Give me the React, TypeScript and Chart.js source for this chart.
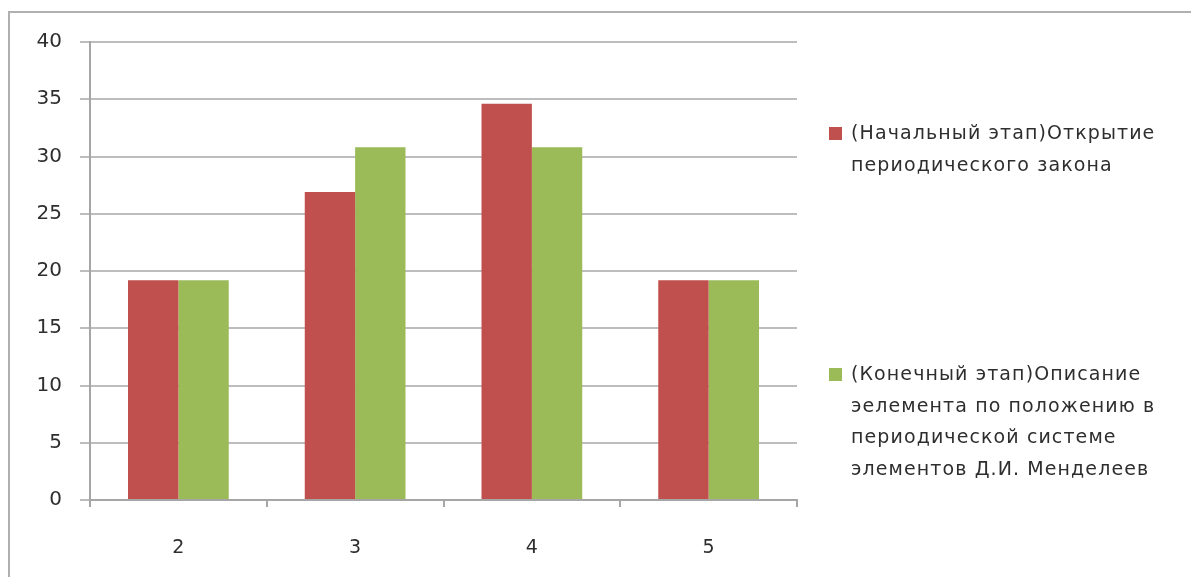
import React, { useEffect, useRef } from "react";
import { Chart, registerables } from "chart.js";

Chart.register(...registerables);

const categories = ["2", "3", "4", "5"];
const initialStage = [19.2, 26.9, 34.6, 19.2];
const finalStage = [19.2, 30.8, 30.8, 19.2];
const initialLabel = ["(Начальный этап)Открытие", "периодического закона"];
const finalLabel = [
  "(Конечный этап)Описание",
  "эелемента по положению в",
  "периодической системе",
  "элементов Д.И. Менделеев",
];
const seriesColors = ["#C0504D", "#9BBB59"];
const yMin = 0;
const yMax = 40;
const yStep = 5;

const FONT = "'DejaVu Sans', 'Liberation Sans', sans-serif";

export default function App() {
  const canvasRef = useRef<HTMLCanvasElement | null>(null);

  useEffect(() => {
    const canvas = canvasRef.current;
    if (!canvas) return;
    const chart = new Chart(canvas, {
      type: "bar",
      data: {
        labels: categories,
        datasets: [
          {
            label: initialLabel.join(" "),
            data: initialStage,
            backgroundColor: seriesColors[0],
            borderWidth: 0,
            categoryPercentage: 0.57,
            barPercentage: 1,
          },
          {
            label: finalLabel.join(" "),
            data: finalStage,
            backgroundColor: seriesColors[1],
            borderWidth: 0,
            categoryPercentage: 0.57,
            barPercentage: 1,
          },
        ],
      },
      options: {
        animation: false,
        responsive: false,
        maintainAspectRatio: false,
        layout: { padding: { top: 29, right: 394, left: 0, bottom: 0 } },
        plugins: {
          legend: { display: false },
          tooltip: { enabled: false },
        },
        scales: {
          x: {
            offset: true,
            grid: {
              display: true,
              offset: true,
              drawOnChartArea: false,
              drawTicks: true,
              tickLength: 7,
              color: "#a6a6a6",
              lineWidth: 2,
            },
            border: { display: true, color: "#a6a6a6", width: 2 },
            ticks: {
              color: "#2e2e2e",
              font: { family: FONT, size: 19 },
              padding: 30,
            },
            afterFit: (s: any) => {
              s.height = 77;
            },
          },
          y: {
            min: yMin,
            max: yMax,
            ticks: {
              stepSize: yStep,
              color: "#2e2e2e",
              font: { family: FONT, size: 20 },
              padding: 18,
            },
            grid: {
              color: "#bdbdbd",
              lineWidth: 2,
              tickLength: 10,
            },
            border: { display: true, color: "#a6a6a6", width: 2 },
            afterFit: (s: any) => {
              s.width = 82;
            },
          },
        },
      },
    });
    return () => chart.destroy();
  }, []);

  const legendText: React.CSSProperties = {
    position: "absolute",
    left: 841,
    fontFamily: FONT,
    fontSize: 19,
    letterSpacing: "1.1px",
    lineHeight: "31.5px",
    color: "#2e2e2e",
    whiteSpace: "nowrap",
  };
  const square = (color: string, top: number): React.CSSProperties => ({
    position: "absolute",
    left: 819,
    top,
    width: 13,
    height: 13,
    background: color,
  });

  return (
    <div
      style={{
        position: "fixed",
        left: 8,
        top: 11,
        right: 0,
        bottom: 0,
        borderTop: "2px solid #b0b0b0",
        borderLeft: "2px solid #b0b0b0",
        background: "#ffffff",
        overflow: "hidden",
      }}
    >
      <canvas
        ref={canvasRef}
        width={1183}
        height={565}
        style={{ position: "absolute", left: -2, top: -1, display: "block" }}
      />
      <div style={square(seriesColors[0], 114)} />
      <div style={{ ...legendText, top: 104 }}>
        {initialLabel.map((l, i) => (
          <div key={i}>{l}</div>
        ))}
      </div>
      <div style={square(seriesColors[1], 355)} />
      <div style={{ ...legendText, top: 345 }}>
        {finalLabel.map((l, i) => (
          <div key={i}>{l}</div>
        ))}
      </div>
    </div>
  );
}
